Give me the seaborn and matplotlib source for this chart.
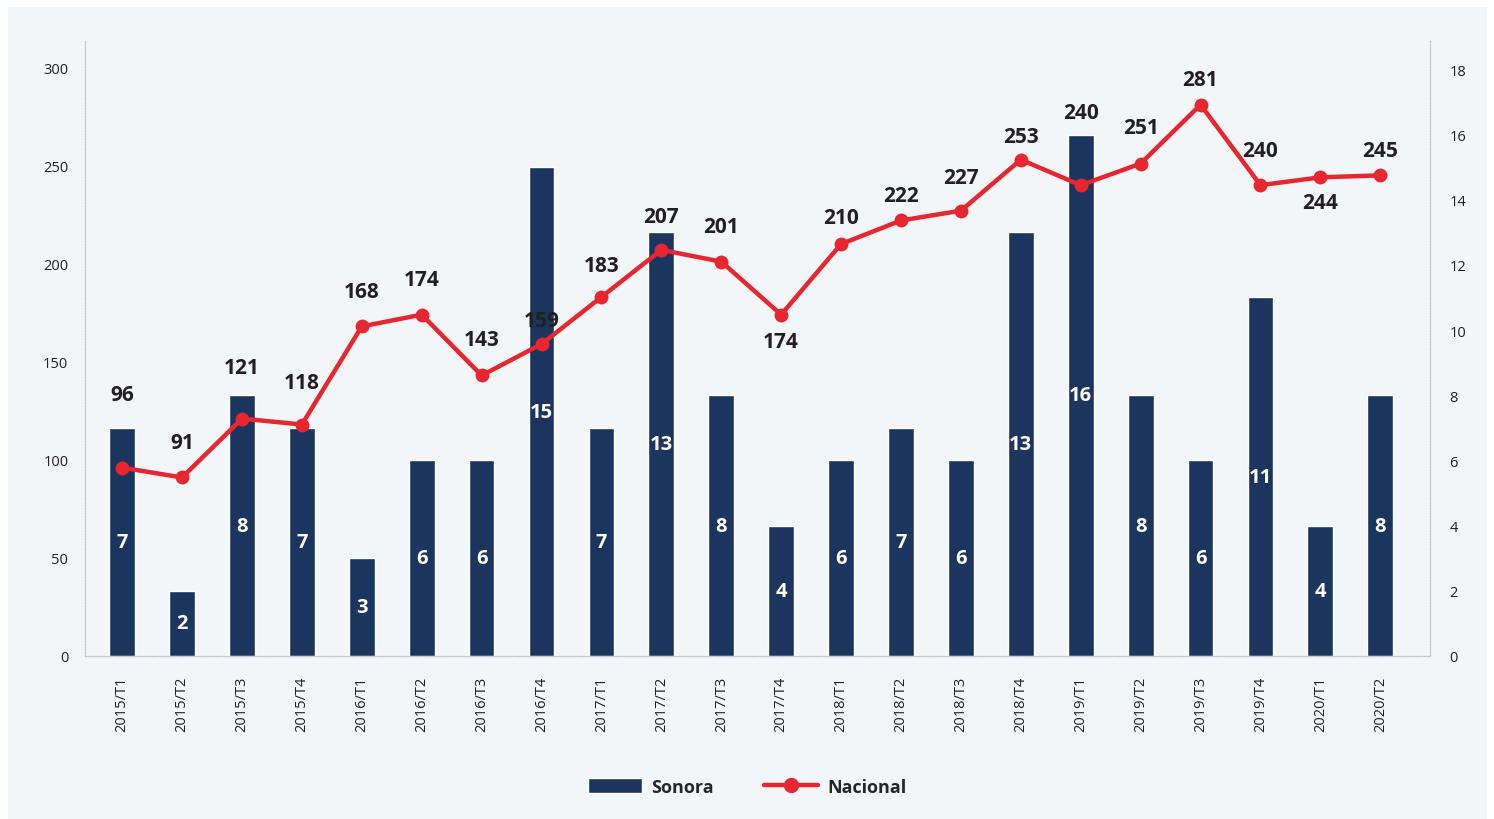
import numpy as np
import seaborn as sns
import matplotlib.pyplot as plt
from matplotlib.patches import Rectangle, Patch
from matplotlib.lines import Line2D

periods = [
    "2015/T1", "2015/T2", "2015/T3", "2015/T4",
    "2016/T1", "2016/T2", "2016/T3", "2016/T4",
    "2017/T1", "2017/T2", "2017/T3", "2017/T4",
    "2018/T1", "2018/T2", "2018/T3", "2018/T4",
    "2019/T1", "2019/T2", "2019/T3", "2019/T4",
    "2020/T1", "2020/T2",
]
sonora = [7, 2, 8, 7, 3, 6, 6, 15, 7, 13, 8, 4, 6, 7, 6, 13, 16, 8, 6, 11, 4, 8]
nacional = [96, 91, 121, 118, 168, 174, 143, 159, 183, 207, 201, 174,
            210, 222, 227, 253, 240, 251, 281, 240, 244, 245]

# vertical offset of each line label, in points (negative = below the point)
label_offsets = [53, 25, 37, 30, 25, 25, 26, 17, 23, 24, 25, -19,
                 19, 18, 24, 17, 52, 26, 18, 25, -18, 18]

BAR_COLOR = "#1c355e"
LINE_COLOR = "#e8262f"
BG = "#f3f6f8"
TEXT = "#231f20"

sns.set_theme(style="white")
plt.rcParams["font.family"] = ["Open Sans", "DejaVu Sans"]

fig = plt.figure(figsize=(14.94, 8.2), dpi=100, facecolor="white")
fig.patches.append(Rectangle((8 / 1494, 0), 1479 / 1494, 812 / 820,
                             transform=fig.transFigure, facecolor=BG,
                             edgecolor="none", zorder=-10))

ax = fig.add_axes([85 / 1494, 1 - 657 / 820, 1345 / 1494, 616 / 820])
ax2 = ax.twinx()
ax.set_zorder(ax2.get_zorder() + 1)
ax.patch.set_visible(False)
ax2.patch.set_facecolor(BG)

x = np.arange(len(periods))

# bars: Sonora on the right axis
ax2.bar(x, sonora, width=0.43, color=BAR_COLOR, zorder=2)
ax2.bar_label(ax2.containers[0], label_type="center", color="white",
              fontsize=14.5, fontweight="bold", fontstretch="condensed")

# line: Nacional on the left axis
sns.lineplot(x=x, y=nacional, ax=ax, color=LINE_COLOR, linewidth=3.2,
             marker="o", markersize=10, markeredgewidth=0, sort=False)

for xi, v, off in zip(x, nacional, label_offsets):
    ax.annotate(str(v), (xi, v), xytext=(0, off), textcoords="offset points",
                ha="center", va="center", fontsize=15, fontweight="bold",
                color=TEXT)

ax.set_xlim(-0.62, len(periods) - 1 + 0.83)
ax.set_ylim(0, 314)
ax2.set_ylim(0, 18.9)
ax.set_yticks(range(0, 301, 50))
ax2.set_yticks(range(0, 19, 2))
ax.set_xticks(x)
ax.set_xticklabels(periods, rotation=90)

for a in (ax, ax2):
    a.tick_params(length=0, labelsize=10.5, colors=TEXT)
    a.grid(False)
    a.spines["top"].set_visible(False)
    for s in ("left", "right", "bottom"):
        a.spines[s].set_color("#c4c4c4")
        a.spines[s].set_linestyle((0, (1, 1.5)))
        a.spines[s].set_linewidth(0.8)
ax.tick_params(axis="y", pad=12)
ax2.tick_params(axis="y", pad=14)
ax.tick_params(axis="x", pad=14)

handles = [
    Patch(facecolor=BAR_COLOR, label="Sonora"),
    Line2D([0], [0], color=LINE_COLOR, linewidth=3.2, marker="o",
           markersize=10, label="Nacional"),
]
fig.legend(handles=handles, loc="center", bbox_to_anchor=(0.5, 1 - 788 / 820),
           ncol=2, frameon=False, handlelength=3.0, handleheight=0.9,
           handletextpad=0.5, columnspacing=2.8,
           prop={"weight": "bold", "size": 13})

fig.savefig("out.png", dpi=100, facecolor="white")
